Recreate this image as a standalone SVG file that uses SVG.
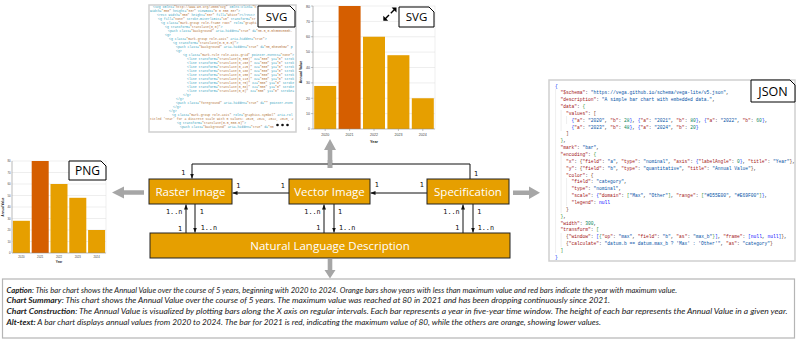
<svg xmlns="http://www.w3.org/2000/svg" width="797" height="339" viewBox="0 0 797 339">
<defs>
<style>
.node rect{fill:#E69F00;stroke:#222;stroke-width:1}
.node text{font-family:"Open Sans","Noto Sans",sans-serif;font-size:11.5px;fill:#fff;text-anchor:middle}
.lbl path{fill:#fff;stroke:#000;stroke-width:1}
.lbl text{font-family:"Open Sans","Noto Sans",sans-serif;fill:#000;text-anchor:middle}
.conn{stroke:#111;stroke-width:1;fill:none}
.mult{font-family:"DejaVu Sans Mono","Liberation Mono",monospace;font-size:6.8px;fill:#111}
.garrow{fill:#a6a6a6}
.panel{fill:#fff;stroke:#cfcfcf;stroke-width:1.5}
.cap text{font-family:Lato,"Open Sans",sans-serif;font-style:italic;font-size:8.2px;fill:#222}
.cap .b{font-weight:bold}
.code text{font-family:"Liberation Mono",monospace;font-size:3.2px;fill:#3aa6c1}
.code .v{fill:#b4763c}
.json text{font-family:"Liberation Mono",monospace;font-size:4.6px;fill:#333}
.json .k{fill:#a31515}
.json .s{fill:#0451a5}
.json .n{fill:#098658}
.json .nl{fill:#0000ff}
.json .b1{fill:#0431fa}
.json .b2{fill:#319331}
.json .b3{fill:#7b3814}
.guide{stroke:#e2e2e2;stroke-width:0.6}
.bo{fill:#E69F00}
.br{fill:#D55E00}
.grid{stroke:#ddd;stroke-width:0.5}
.frame{fill:none;stroke:#ddd;stroke-width:0.5}
.axis{stroke:#888;stroke-width:0.5}
.tk{font-family:"Liberation Sans",Arial,sans-serif;fill:#444}
.ttl{font-family:"Liberation Sans",Arial,sans-serif;fill:#222;font-weight:bold;text-anchor:middle}
</style>
<marker id="ah" markerUnits="userSpaceOnUse" markerWidth="5" markerHeight="4" refX="5" refY="2" orient="auto">
<path d="M0,0 L5,2 L0,4 Z" fill="#111"/>
</marker>
</defs>
<rect x="0" y="0" width="797" height="339" fill="#fff"/>

<!-- PNG chart -->
<g id="png-chart">
<rect x="12" y="161" width="94" height="92" fill="#fff"/>
<g class="grid">
<line x1="12" y1="241.5" x2="106" y2="241.5"/><line x1="12" y1="230" x2="106" y2="230"/><line x1="12" y1="218.5" x2="106" y2="218.5"/><line x1="12" y1="207" x2="106" y2="207"/><line x1="12" y1="195.5" x2="106" y2="195.5"/><line x1="12" y1="184" x2="106" y2="184"/><line x1="12" y1="172.5" x2="106" y2="172.5"/>
</g>
<rect class="frame" x="12" y="161" width="94" height="92"/>
<rect class="bo" x="12.9" y="220.8" width="17" height="32.2"/>
<rect class="br" x="31.7" y="161" width="17" height="92"/>
<rect class="bo" x="50.5" y="184" width="17" height="69"/>
<rect class="bo" x="69.3" y="197.8" width="17" height="55.2"/>
<rect class="bo" x="88.1" y="230" width="17" height="23"/>
<line class="axis" x1="12" y1="161" x2="12" y2="253"/>
<line class="axis" x1="12" y1="253" x2="106" y2="253"/>
<g class="tk" font-size="2.8" text-anchor="end">
<text x="10.5" y="254">0</text><text x="10.5" y="242.5">10</text><text x="10.5" y="231">20</text><text x="10.5" y="219.5">30</text><text x="10.5" y="208">40</text><text x="10.5" y="196.5">50</text><text x="10.5" y="185">60</text><text x="10.5" y="173.5">70</text><text x="10.5" y="162">80</text>
</g>
<g class="tk" font-size="2.8" text-anchor="middle">
<text x="21.4" y="258">2020</text><text x="40.2" y="258">2021</text><text x="59" y="258">2022</text><text x="77.8" y="258">2023</text><text x="96.6" y="258">2024</text>
</g>
<text class="ttl" font-size="3" x="59" y="262.5">Year</text>
<text class="ttl" font-size="3" transform="translate(4,207) rotate(-90)">Annual Value</text>
</g>
<g id="png-label" class="lbl">
<path d="M69,161 H101 L106,166 V180 H69 Z"/>
<text x="87.5" y="175" font-size="12">PNG</text>
</g>

<!-- SVG code panel -->
<g id="svg-code" class="code">
<rect class="panel" x="149" y="5" width="147" height="127"/>
<text x="153" y="8.2">&lt;svg xmlns=<tspan class="v">"http://www.w3.org/2000/svg"</tspan> xmlns:xlink=<tspan class="v">"h</tspan></text>
<text x="150" y="12.2">width=<tspan class="v">"350"</tspan> height=<tspan class="v">"337"</tspan> viewBox=<tspan class="v">"0 0 350 337"</tspan>&gt;</text>
<text x="157" y="16.2">&lt;rect width=<tspan class="v">"350"</tspan> height=<tspan class="v">"337"</tspan> fill=<tspan class="v">"white"</tspan>&gt;&lt;/rect&gt;</text>
<text x="158" y="20.2">&lt;g fill=<tspan class="v">"none"</tspan> stroke-miterlimit=<tspan class="v">"10"</tspan> transform=<tspan class="v">"tr</tspan></text>
<text x="161" y="24.2">&lt;g class=<tspan class="v">"mark-group role-frame root"</tspan> role=<tspan class="v">"graphi</tspan></text>
<text x="165" y="28.2">&lt;g transform=<tspan class="v">"translate(0,0)"</tspan>&gt;</text>
<text x="168" y="32.2">&lt;path class=<tspan class="v">"background"</tspan> aria-hidden=<tspan class="v">"true"</tspan> d=<tspan class="v">"M0.5,0.5h300v300h-</tspan></text>
<text x="165" y="36.2">&lt;g&gt;</text>
<text x="169" y="40.2">&lt;g class=<tspan class="v">"mark-group role-axis"</tspan> aria-hidden=<tspan class="v">"true"</tspan>&gt;</text>
<text x="173" y="44.2">&lt;g transform=<tspan class="v">"translate(0.5,0.5)"</tspan>&gt;</text>
<text x="176" y="48.2">&lt;path class=<tspan class="v">"background"</tspan> aria-hidden=<tspan class="v">"true"</tspan> d=<tspan class="v">"M0,0h0v0h0Z"</tspan> p</text>
<text x="176" y="52.2">&lt;g&gt;</text>
<text x="183" y="56.2">&lt;g class=<tspan class="v">"mark-rule role-axis-grid"</tspan> pointer-events=<tspan class="v">"none"</tspan>&gt;</text>
<text x="187" y="60.2">&lt;line transform=<tspan class="v">"translate(0,300)"</tspan> x2=<tspan class="v">"300"</tspan> y2=<tspan class="v">"0"</tspan> strok</text>
<text x="187" y="64.2">&lt;line transform=<tspan class="v">"translate(0,263)"</tspan> x2=<tspan class="v">"300"</tspan> y2=<tspan class="v">"0"</tspan> strok</text>
<text x="187" y="68.2">&lt;line transform=<tspan class="v">"translate(0,225)"</tspan> x2=<tspan class="v">"300"</tspan> y2=<tspan class="v">"0"</tspan> strok</text>
<text x="187" y="72.2">&lt;line transform=<tspan class="v">"translate(0,188)"</tspan> x2=<tspan class="v">"300"</tspan> y2=<tspan class="v">"0"</tspan> strok</text>
<text x="187" y="76.2">&lt;line transform=<tspan class="v">"translate(0,150)"</tspan> x2=<tspan class="v">"300"</tspan> y2=<tspan class="v">"0"</tspan> strok</text>
<text x="187" y="80.2">&lt;line transform=<tspan class="v">"translate(0,113)"</tspan> x2=<tspan class="v">"300"</tspan> y2=<tspan class="v">"0"</tspan> strok</text>
<text x="187" y="84.2">&lt;line transform=<tspan class="v">"translate(0,75)"</tspan> x2=<tspan class="v">"300"</tspan> y2=<tspan class="v">"0"</tspan> stroke</text>
<text x="187" y="88.2">&lt;line transform=<tspan class="v">"translate(0,38)"</tspan> x2=<tspan class="v">"300"</tspan> y2=<tspan class="v">"0"</tspan> stroke</text>
<text x="187" y="92.2">&lt;line transform=<tspan class="v">"translate(0,0)"</tspan> x2=<tspan class="v">"300"</tspan> y2=<tspan class="v">"0"</tspan> stroke=</text>
<text x="183" y="96.2">&lt;/g&gt;</text>
<text x="176" y="100.2">&lt;/g&gt;</text>
<text x="176" y="104.2">&lt;path class=<tspan class="v">"foreground"</tspan> aria-hidden=<tspan class="v">"true"</tspan> d=<tspan class="v">""</tspan> pointer-even</text>
<text x="173" y="108.2">&lt;/g&gt;</text>
<text x="169" y="112.2">&lt;/g&gt;</text>
<text x="172" y="116.2">&lt;g class=<tspan class="v">"mark-group role-axis"</tspan> role=<tspan class="v">"graphics-symbol"</tspan> aria-rol</text>
<text x="150" y="120.2" class="v">titled 'Year' for a discrete scale with 5 values: 2020, 2021, 2022, 2023, 2</text>
<text x="177" y="124.2">&lt;g transform=<tspan class="v">"translate(0.5,300.5)"</tspan>&gt;</text>
<text x="180" y="128.2">&lt;path class=<tspan class="v">"background"</tspan> aria-hidden=<tspan class="v">"true"</tspan> d=<tspan class="v">"M0</tspan></text>
<circle cx="277.5" cy="125" r="1.3" fill="#111"/>
<circle cx="282.5" cy="125" r="1.3" fill="#111"/>
<circle cx="287.5" cy="125" r="1.3" fill="#111"/>
</g>
<g id="svg-code-label" class="lbl">
<path d="M258,6 H290 L295,11 V27 H258 Z"/>
<text x="276.5" y="21" font-size="11.5">SVG</text>
</g>

<!-- SVG chart -->
<g id="svg-chart">
<g class="grid">
<line x1="313" y1="113.6" x2="435" y2="113.6"/><line x1="313" y1="98.25" x2="435" y2="98.25"/><line x1="313" y1="82.9" x2="435" y2="82.9"/><line x1="313" y1="67.5" x2="435" y2="67.5"/><line x1="313" y1="52.1" x2="435" y2="52.1"/><line x1="313" y1="36.75" x2="435" y2="36.75"/><line x1="313" y1="21.4" x2="435" y2="21.4"/>
</g>
<rect class="frame" x="313" y="6" width="122" height="123"/>
<rect class="bo" x="314.2" y="85.95" width="22" height="43.05"/>
<rect class="br" x="338.6" y="6" width="22" height="123"/>
<rect class="bo" x="363" y="36.75" width="22" height="92.25"/>
<rect class="bo" x="387.4" y="55.2" width="22" height="73.8"/>
<rect class="bo" x="411.8" y="98.25" width="22" height="30.75"/>
<line class="axis" x1="313" y1="6" x2="313" y2="129"/>
<line class="axis" x1="313" y1="129" x2="435" y2="129"/>
<g class="axis">
<line x1="311" y1="129" x2="313" y2="129"/><line x1="311" y1="113.6" x2="313" y2="113.6"/><line x1="311" y1="98.25" x2="313" y2="98.25"/><line x1="311" y1="82.9" x2="313" y2="82.9"/><line x1="311" y1="67.5" x2="313" y2="67.5"/><line x1="311" y1="52.1" x2="313" y2="52.1"/><line x1="311" y1="36.75" x2="313" y2="36.75"/><line x1="311" y1="21.4" x2="313" y2="21.4"/><line x1="311" y1="6" x2="313" y2="6"/>
<line x1="325.2" y1="129" x2="325.2" y2="131"/><line x1="349.6" y1="129" x2="349.6" y2="131"/><line x1="374" y1="129" x2="374" y2="131"/><line x1="398.4" y1="129" x2="398.4" y2="131"/><line x1="422.8" y1="129" x2="422.8" y2="131"/>
</g>
<g class="tk" font-size="3.6" text-anchor="end">
<text x="310" y="130.3">0</text><text x="310" y="114.9">10</text><text x="310" y="99.5">20</text><text x="310" y="84.2">30</text><text x="310" y="68.8">40</text><text x="310" y="53.4">50</text><text x="310" y="38">60</text><text x="310" y="22.7">70</text><text x="310" y="7.6">80</text>
</g>
<g class="tk" font-size="3.6" text-anchor="middle">
<text x="325.2" y="136.3">2020</text><text x="349.6" y="136.3">2021</text><text x="374" y="136.3">2022</text><text x="398.4" y="136.3">2023</text><text x="422.8" y="136.3">2024</text>
</g>
<text class="ttl" font-size="3.8" x="374" y="142.5">Year</text>
<text class="ttl" font-size="3.6" transform="translate(302,72) rotate(-90)">Annual Value</text>
<g id="expand-icon" fill="#000" stroke="#000">
<line x1="384.8" y1="19.2" x2="389" y2="15" stroke-width="1.4"/>
<line x1="390.8" y1="13.2" x2="395" y2="9" stroke-width="1.4"/>
<path d="M383.3,20.7 L383.3,15.8 L388.2,20.7 Z" stroke="none"/>
<path d="M396.5,7.5 L391.6,7.5 L396.5,12.4 Z" stroke="none"/>
</g>
</g>
<g id="svg-chart-label" class="lbl">
<path d="M399,7 H429 L434,12 V27 H399 Z"/>
<text x="416.5" y="21.2" font-size="11.5">SVG</text>
</g>

<!-- JSON panel -->
<g id="json-spec" class="json">
<rect class="panel" x="549" y="80" width="246" height="181"/>
<line class="guide" x1="555.6" y1="89" x2="555.6" y2="253"/>
<line class="guide" x1="561.1" y1="110" x2="561.1" y2="131"/>
<line class="guide" x1="566.6" y1="116" x2="566.6" y2="124"/>
<line class="guide" x1="561.1" y1="151" x2="561.1" y2="213"/>
<line class="guide" x1="566.6" y1="178" x2="566.6" y2="206"/>
<line class="guide" x1="561.1" y1="233" x2="561.1" y2="247"/>
<text x="555" y="87.5"><tspan class="b1">{</tspan></text>
<text x="560.5" y="94.35"><tspan class="k">"$schema"</tspan>: <tspan class="s">"https://vega.github.io/schema/vega-lite/v5.json"</tspan>,</text>
<text x="560.5" y="101.2"><tspan class="k">"description"</tspan>: <tspan class="s">"A simple bar chart with embedded data."</tspan>,</text>
<text x="560.5" y="108.05"><tspan class="k">"data"</tspan>: <tspan class="b2">{</tspan></text>
<text x="566" y="114.9"><tspan class="k">"values"</tspan>: <tspan class="b3">[</tspan></text>
<text x="571.5" y="121.75"><tspan class="b1">{</tspan><tspan class="k">"a"</tspan>: <tspan class="s">"2020"</tspan>, <tspan class="k">"b"</tspan>: <tspan class="n">28</tspan><tspan class="b1">}</tspan>, <tspan class="b1">{</tspan><tspan class="k">"a"</tspan>: <tspan class="s">"2021"</tspan>, <tspan class="k">"b"</tspan>: <tspan class="n">80</tspan><tspan class="b1">}</tspan>, <tspan class="b1">{</tspan><tspan class="k">"a"</tspan>: <tspan class="s">"2022"</tspan>, <tspan class="k">"b"</tspan>: <tspan class="n">60</tspan><tspan class="b1">}</tspan>,</text>
<text x="571.5" y="128.6"><tspan class="b1">{</tspan><tspan class="k">"a"</tspan>: <tspan class="s">"2023"</tspan>, <tspan class="k">"b"</tspan>: <tspan class="n">48</tspan><tspan class="b1">}</tspan>, <tspan class="b1">{</tspan><tspan class="k">"a"</tspan>: <tspan class="s">"2024"</tspan>, <tspan class="k">"b"</tspan>: <tspan class="n">20</tspan><tspan class="b1">}</tspan></text>
<text x="566" y="135.45"><tspan class="b3">]</tspan></text>
<text x="560.5" y="142.3"><tspan class="b2">}</tspan>,</text>
<text x="560.5" y="149.15"><tspan class="k">"mark"</tspan>: <tspan class="s">"bar"</tspan>,</text>
<text x="560.5" y="156"><tspan class="k">"encoding"</tspan>: <tspan class="b2">{</tspan></text>
<text x="566" y="162.85"><tspan class="k">"x"</tspan>: <tspan class="b3">{</tspan><tspan class="k">"field"</tspan>: <tspan class="s">"a"</tspan>, <tspan class="k">"type"</tspan>: <tspan class="s">"nominal"</tspan>, <tspan class="k">"axis"</tspan>: <tspan class="b1">{</tspan><tspan class="k">"labelAngle"</tspan>: <tspan class="n">0</tspan><tspan class="b1">}</tspan>, <tspan class="k">"title"</tspan>: <tspan class="s">"Year"</tspan><tspan class="b3">}</tspan>,</text>
<text x="566" y="169.7"><tspan class="k">"y"</tspan>: <tspan class="b3">{</tspan><tspan class="k">"field"</tspan>: <tspan class="s">"b"</tspan>, <tspan class="k">"type"</tspan>: <tspan class="s">"quantitative"</tspan>, <tspan class="k">"title"</tspan>: <tspan class="s">"Annual Value"</tspan><tspan class="b3">}</tspan>,</text>
<text x="566" y="176.55"><tspan class="k">"color"</tspan>: <tspan class="b3">{</tspan></text>
<text x="571.5" y="183.4"><tspan class="k">"field"</tspan>: <tspan class="s">"category"</tspan>,</text>
<text x="571.5" y="190.25"><tspan class="k">"type"</tspan>: <tspan class="s">"nominal"</tspan>,</text>
<text x="571.5" y="197.1"><tspan class="k">"scale"</tspan>: <tspan class="b1">{</tspan><tspan class="k">"domain"</tspan>: <tspan class="b2">[</tspan><tspan class="s">"Max"</tspan>, <tspan class="s">"Other"</tspan><tspan class="b2">]</tspan>, <tspan class="k">"range"</tspan>: <tspan class="b2">[</tspan><tspan class="s">"#D55E00"</tspan>, <tspan class="s">"#E69F00"</tspan><tspan class="b2">]</tspan><tspan class="b1">}</tspan>,</text>
<text x="571.5" y="203.95"><tspan class="k">"legend"</tspan>: <tspan class="nl">null</tspan></text>
<text x="566" y="210.8"><tspan class="b3">}</tspan></text>
<text x="560.5" y="217.65"><tspan class="b2">}</tspan>,</text>
<text x="560.5" y="224.5"><tspan class="k">"width"</tspan>: <tspan class="n">300</tspan>,</text>
<text x="560.5" y="231.35"><tspan class="k">"transform"</tspan>: <tspan class="b2">[</tspan></text>
<text x="566" y="238.2"><tspan class="b3">{</tspan><tspan class="k">"window"</tspan>: <tspan class="b1">[</tspan><tspan class="b2">{</tspan><tspan class="k">"op"</tspan>: <tspan class="s">"max"</tspan>, <tspan class="k">"field"</tspan>: <tspan class="s">"b"</tspan>, <tspan class="k">"as"</tspan>: <tspan class="s">"max_b"</tspan><tspan class="b2">}</tspan><tspan class="b1">]</tspan>, <tspan class="k">"frame"</tspan>: <tspan class="b1">[</tspan><tspan class="nl">null</tspan>, <tspan class="nl">null</tspan><tspan class="b1">]</tspan><tspan class="b3">}</tspan>,</text>
<text x="566" y="245.05"><tspan class="b3">{</tspan><tspan class="k">"calculate"</tspan>: <tspan class="s">"datum.b == datum.max_b ? 'Max' : 'Other'"</tspan>, <tspan class="k">"as"</tspan>: <tspan class="s">"category"</tspan><tspan class="b3">}</tspan></text>
<text x="560.5" y="251.9"><tspan class="b2">]</tspan></text>
<text x="555" y="258.75"><tspan class="b1">}</tspan></text>
</g>
<g id="json-label" class="lbl">
<path d="M751,80 H790 L795,85 V102 H751 Z"/>
<text x="773" y="95.5" font-size="12.5">JSON</text>
</g>

<!-- gray flow arrows -->
<g id="flow-arrows" class="garrow">
<path d="M112,192.5 L124,186.5 L124,190.2 L144,190.2 L144,194.8 L124,194.8 L124,198.5 Z"/>
<path d="M540,192.8 L529,186.6 L529,190.5 L513,190.5 L513,195.1 L529,195.1 L529,199 Z"/>
<path d="M330,139 L336,150 L332.3,150 L332.3,168 L327.7,168 L327.7,150 L324,150 Z"/>
<path d="M330,278.5 L335.5,270 L332.3,270 L332.3,259 L327.7,259 L327.7,270 L324.5,270 Z"/>
</g>

<!-- connectors -->
<g id="connectors">
<path class="conn" d="M470,179 V164 H192 V178.5" marker-end="url(#ah)"/>
<path class="conn" d="M289,193 H232.5" marker-end="url(#ah)"/>
<path class="conn" d="M427,193 H370.5" marker-end="url(#ah)"/>
<path class="conn" d="M186,233 V204.5" marker-end="url(#ah)"/>
<path class="conn" d="M195,204 V232.5" marker-end="url(#ah)"/>
<path class="conn" d="M324,233 V204.5" marker-end="url(#ah)"/>
<path class="conn" d="M334,204 V232.5" marker-end="url(#ah)"/>
<path class="conn" d="M463,233 V204.5" marker-end="url(#ah)"/>
<path class="conn" d="M473,204 V232.5" marker-end="url(#ah)"/>
<g class="mult">
<text x="474" y="175.5">1</text>
<text x="181.3" y="175.2">1</text>
<text x="236.3" y="187.5">1</text>
<text x="280.7" y="187.5">1</text>
<text x="374.7" y="186.8">1</text>
<text x="419.7" y="186.8">1</text>
<text x="166" y="214.2">1..n</text>
<text x="199.7" y="213.5">1</text>
<text x="178" y="230.8">1</text>
<text x="200.7" y="230.2">1..n</text>
<text x="304.3" y="214.2">1..n</text>
<text x="338" y="213.5">1</text>
<text x="316.3" y="230.2">1</text>
<text x="339" y="230.2">1..n</text>
<text x="443.3" y="214.2">1..n</text>
<text x="477.3" y="213.5">1</text>
<text x="455.3" y="230.2">1</text>
<text x="477.7" y="230.2">1..n</text>
</g>
</g>
<path fill="#a6a6a6" d="M327.7,160 H332.3 V168 H327.7 Z"/>

<!-- nodes -->
<g id="node-raster" class="node">
<rect x="149" y="179" width="83" height="25"/>
<text x="190.5" y="195.5">Raster Image</text>
</g>
<g id="node-vector" class="node">
<rect x="289" y="179" width="81" height="25"/>
<text x="329.5" y="195.5">Vector Image</text>
</g>
<g id="node-spec" class="node">
<rect x="427" y="179" width="82" height="25"/>
<text x="468" y="195.5">Specification</text>
</g>
<g id="node-nld" class="node">
<rect x="150" y="233" width="360" height="25"/>
<text x="330" y="249.5">Natural Language Description</text>
</g>

<!-- caption -->
<g id="caption" class="cap">
<rect x="2.5" y="279" width="792" height="59" fill="#fff" stroke="#b5b5b5" stroke-width="1.2"/>
<text x="6.5" y="292.5" textLength="670.5" lengthAdjust="spacingAndGlyphs"><tspan class="b">Caption</tspan>: This bar chart shows the Annual Value over the course of 5 years, beginning with 2020 to 2024. Orange bars show years with less than maximum value and red bars indicate the year with maximum value.</text>
<text x="6.5" y="303.3" textLength="603.5" lengthAdjust="spacingAndGlyphs"><tspan class="b">Chart Summary</tspan>: This chart shows the Annual Value over the course of 5 years. The maximum value was reached at 80 in 2021 and has been dropping continuously since 2021.</text>
<text x="6.5" y="314.1" textLength="781" lengthAdjust="spacingAndGlyphs"><tspan class="b">Chart Construction</tspan>: The Annual Value is visualized by plotting bars along the X axis on regular intervals. Each bar represents a year in five-year time window. The height of each bar represents the Annual Value in a given year.</text>
<text x="6.5" y="324.9" textLength="594.5" lengthAdjust="spacingAndGlyphs"><tspan class="b">Alt-text:</tspan> A bar chart displays annual values from 2020 to 2024. The bar for 2021 is red, indicating the maximum value of 80, while the others are orange, showing lower values.</text>
</g>
</svg>
